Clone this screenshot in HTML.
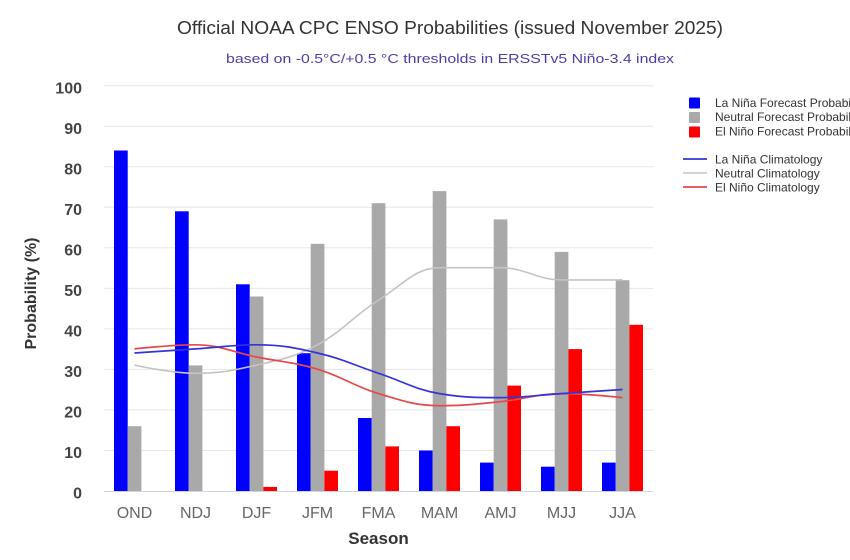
<!DOCTYPE html>
<html>
<head>
<meta charset="utf-8">
<style>
  html, body { margin: 0; padding: 0; background: #ffffff; }
  svg { display: block; }
  text { font-family: "Liberation Sans", "DejaVu Sans", sans-serif; }
</style>
</head>
<body>
<svg width="850" height="560" viewBox="0 0 850 560" xmlns="http://www.w3.org/2000/svg">
  <rect x="0" y="0" width="850" height="560" fill="#ffffff"/>

  <!-- Titles -->
  <text x="450" y="34" text-anchor="middle" font-size="18" fill="#333333" textLength="546" lengthAdjust="spacingAndGlyphs">Official NOAA CPC ENSO Probabilities (issued November 2025)</text>
  <text x="450" y="63" text-anchor="middle" font-size="13" fill="#4b3fa6" textLength="448" lengthAdjust="spacingAndGlyphs">based on -0.5°C/+0.5 °C thresholds in ERSSTv5 Niño-3.4 index</text>

  <!-- Gridlines -->
  <g stroke="#e6e6e6" stroke-width="1">
    <line x1="104" y1="85.7" x2="653" y2="85.7"/>
    <line x1="104" y1="126.2" x2="653" y2="126.2"/>
    <line x1="104" y1="166.8" x2="653" y2="166.8"/>
    <line x1="104" y1="207.3" x2="653" y2="207.3"/>
    <line x1="104" y1="247.8" x2="653" y2="247.8"/>
    <line x1="104" y1="288.4" x2="653" y2="288.4"/>
    <line x1="104" y1="328.9" x2="653" y2="328.9"/>
    <line x1="104" y1="369.4" x2="653" y2="369.4"/>
    <line x1="104" y1="409.9" x2="653" y2="409.9"/>
    <line x1="104" y1="450.5" x2="653" y2="450.5"/>
  </g>

  <!-- Y tick labels -->
  <g font-size="16" font-weight="bold" fill="#444444" text-anchor="end">
    <text x="82" y="93.4">100</text>
    <text x="82" y="133.9">90</text>
    <text x="82" y="174.5">80</text>
    <text x="82" y="215">70</text>
    <text x="82" y="255.5">60</text>
    <text x="82" y="296.1">50</text>
    <text x="82" y="336.6">40</text>
    <text x="82" y="377.1">30</text>
    <text x="82" y="417.6">20</text>
    <text x="82" y="458.2">10</text>
    <text x="82" y="498.7">0</text>
  </g>

  <!-- Bars: La Niña (blue) -->
  <g fill="#0000ff">
    <rect x="114" y="150.5" width="13.7" height="340.5"/>
    <rect x="175" y="211.3" width="13.7" height="279.7"/>
    <rect x="236" y="284.3" width="13.7" height="206.7"/>
    <rect x="297" y="353.2" width="13.7" height="137.8"/>
    <rect x="358" y="418.0" width="13.7" height="73.0"/>
    <rect x="419" y="450.5" width="13.7" height="40.5"/>
    <rect x="480" y="462.6" width="13.7" height="28.4"/>
    <rect x="541" y="466.7" width="13.7" height="24.3"/>
    <rect x="602" y="462.6" width="13.7" height="28.4"/>
  </g>
  <!-- Bars: Neutral (gray) -->
  <g fill="#a9a9a9">
    <rect x="127.7" y="426.2" width="13.7" height="64.8"/>
    <rect x="188.7" y="365.4" width="13.7" height="125.6"/>
    <rect x="249.7" y="296.5" width="13.7" height="194.5"/>
    <rect x="310.7" y="243.8" width="13.7" height="247.2"/>
    <rect x="371.7" y="203.2" width="13.7" height="287.8"/>
    <rect x="432.7" y="191.1" width="13.7" height="299.9"/>
    <rect x="493.7" y="219.4" width="13.7" height="271.6"/>
    <rect x="554.7" y="251.9" width="13.7" height="239.1"/>
    <rect x="615.7" y="280.2" width="13.7" height="210.8"/>
  </g>
  <!-- Bars: El Niño (red) -->
  <g fill="#ff0000">
    <rect x="263.4" y="486.9" width="13.6" height="4.1"/>
    <rect x="324.4" y="470.7" width="13.6" height="20.3"/>
    <rect x="385.4" y="446.4" width="13.6" height="44.6"/>
    <rect x="446.4" y="426.2" width="13.6" height="64.8"/>
    <rect x="507.4" y="385.6" width="13.6" height="105.4"/>
    <rect x="568.4" y="349.1" width="13.6" height="141.9"/>
    <rect x="629.4" y="324.8" width="13.6" height="166.2"/>
  </g>

  <!-- Axis baseline -->
  <line x1="104" y1="491.5" x2="653" y2="491.5" stroke="#ccd6eb" stroke-width="1"/>

  <!-- Climatology lines -->
  <path d="M134.5,365.1 C134.5,365.1 171.1,373.3 195.5,373.3 C219.9,373.3 232.1,370.8 256.5,365.1 C280.9,359.5 293.1,357.8 317.5,344.8 C341.9,331.8 354.1,315.6 378.5,300.2 C402.9,284.8 415.1,267.7 439.5,267.7 C463.9,267.7 476.1,267.7 500.5,267.7 C524.9,267.7 537.1,279.9 561.5,279.9 C585.9,279.9 622.5,279.9 622.5,279.9" fill="none" stroke="#c4c4c4" stroke-width="1.6"/>
  <path d="M134.5,348.9 C134.5,348.9 171.1,344.8 195.5,344.8 C219.9,344.8 232.1,352.1 256.5,357.0 C280.9,361.9 293.1,361.9 317.5,369.2 C341.9,376.5 354.1,386.3 378.5,393.6 C402.9,400.9 415.1,405.7 439.5,405.7 C463.9,405.7 476.1,404.1 500.5,401.7 C524.9,399.2 537.1,393.6 561.5,393.6 C585.9,393.6 622.5,397.6 622.5,397.6" fill="none" stroke="#e8474a" stroke-width="1.7"/>
  <path d="M134.5,353.0 C134.5,353.0 171.1,350.5 195.5,348.9 C219.9,347.3 232.1,344.8 256.5,344.8 C280.9,344.8 293.1,347.3 317.5,353.0 C341.9,358.6 354.1,365.1 378.5,373.3 C402.9,381.4 415.1,389.5 439.5,393.6 C463.9,397.6 476.1,397.6 500.5,397.6 C524.9,397.6 537.1,395.2 561.5,393.6 C585.9,391.9 622.5,389.5 622.5,389.5" fill="none" stroke="#3434d8" stroke-width="1.7"/>

  <!-- X labels -->
  <g font-size="16" fill="#666666" text-anchor="middle">
    <text x="134.5" y="518">OND</text>
    <text x="195.5" y="518">NDJ</text>
    <text x="256.5" y="518">DJF</text>
    <text x="317.5" y="518">JFM</text>
    <text x="378.5" y="518">FMA</text>
    <text x="439.5" y="518">MAM</text>
    <text x="500.5" y="518">AMJ</text>
    <text x="561.5" y="518">MJJ</text>
    <text x="622.5" y="518">JJA</text>
  </g>

  <!-- Axis titles -->
  <text x="378.5" y="544" text-anchor="middle" font-size="17" font-weight="bold" fill="#333333">Season</text>
  <text transform="translate(36,293.5) rotate(-90)" text-anchor="middle" font-size="16" font-weight="bold" fill="#333333">Probability (%)</text>

  <!-- Legend -->
  <rect x="689" y="97.5" width="11" height="11" rx="1" fill="#0000ff"/>
  <rect x="689" y="112" width="11" height="11" rx="1" fill="#a9a9a9"/>
  <rect x="689" y="126.5" width="11" height="11" rx="1" fill="#ff0000"/>
  <g font-size="12" fill="#333333">
    <text x="715" y="107">La Niña Forecast Probability</text>
    <text x="715" y="121">Neutral Forecast Probability</text>
    <text x="715" y="135.5">El Niño Forecast Probability</text>
    <text x="715" y="163.5">La Niña Climatology</text>
    <text x="715" y="177.5">Neutral Climatology</text>
    <text x="715" y="191.5">El Niño Climatology</text>
  </g>
  <line x1="683" y1="159" x2="707" y2="159" stroke="#3434d8" stroke-width="1.7"/>
  <line x1="683" y1="173" x2="707" y2="173" stroke="#c4c4c4" stroke-width="1.6"/>
  <line x1="683" y1="187" x2="707" y2="187" stroke="#e8474a" stroke-width="1.7"/>
</svg>
</body>
</html>
